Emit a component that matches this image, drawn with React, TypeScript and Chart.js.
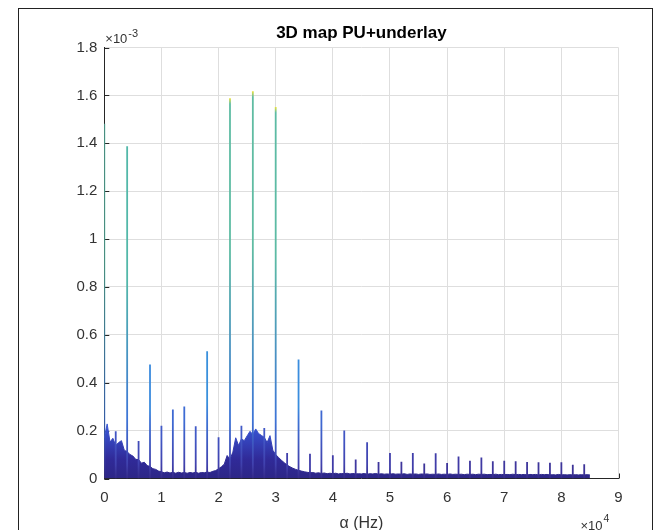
import React, { useEffect, useRef } from "react";
import { Chart, registerables } from "chart.js";

Chart.register(...registerables);

// ---- axis ticks ----
const xTickValues = [0, 1, 2, 3, 4, 5, 6, 7, 8, 9]; // ×10^4 Hz
const yTickValues = [0, 0.2, 0.4, 0.6, 0.8, 1, 1.2, 1.4, 1.6, 1.8]; // ×10^-3

// ---- cyclic spikes (α in ×10^4 Hz, magnitude in ×10^-3) ----
const spikeAlpha = [
  0, 0.2, 0.4, 0.6, 0.8, 1.0, 1.2, 1.4, 1.6, 1.8, 2.0, 2.2, 2.4, 2.6, 2.8, 3.0,
  3.2, 3.4, 3.6, 3.8, 4.0, 4.2, 4.4, 4.6, 4.8, 5.0, 5.2, 5.4, 5.6, 5.8, 6.0, 6.2,
  6.4, 6.6, 6.8, 7.0, 7.2, 7.4, 7.6, 7.8, 8.0, 8.2, 8.4,
];
const spikeMag = [
  1.482, 0.197, 1.388, 0.157, 0.476, 0.220, 0.288, 0.301, 0.218, 0.531, 0.172,
  1.588, 0.220, 1.617, 0.211, 1.551, 0.106, 0.497, 0.103, 0.284, 0.097, 0.200,
  0.079, 0.151, 0.069, 0.106, 0.070, 0.106, 0.063, 0.105, 0.065, 0.092, 0.074,
  0.088, 0.072, 0.074, 0.072, 0.069, 0.068, 0.066, 0.068, 0.057, 0.059,
];

// ---- underlay noise floor, sampled every 0.05 ×10^4 Hz from 0 to 8.5 ----
const noiseStep = 0.05;
const noiseMag = [
  0.170, 0.228, 0.152, 0.168, 0.138, 0.150, 0.158, 0.118, 0.112, 0.100,
  0.094, 0.080, 0.079, 0.064, 0.068, 0.054, 0.050, 0.041, 0.038, 0.031,
  0.028, 0.024, 0.027, 0.023, 0.026, 0.022, 0.026, 0.023, 0.025, 0.022,
  0.025, 0.023, 0.026, 0.022, 0.025, 0.024, 0.027, 0.025, 0.030, 0.033,
  0.041, 0.049, 0.060, 0.096, 0.080, 0.110, 0.170, 0.138, 0.165, 0.158,
  0.178, 0.197, 0.184, 0.207, 0.188, 0.180, 0.172, 0.150, 0.179, 0.118,
  0.100, 0.088, 0.076, 0.066, 0.056, 0.049, 0.043, 0.038, 0.034, 0.031,
  0.028, 0.026, 0.024, 0.025, 0.022, 0.024, 0.021, 0.023, 0.020, 0.022,
  0.020, 0.022, 0.019, 0.021, 0.020, 0.022, 0.019, 0.021, 0.019, 0.020,
  0.019, 0.021, 0.018, 0.020, 0.019, 0.021, 0.018, 0.020, 0.018, 0.019,
  0.018, 0.020, 0.018, 0.019, 0.018, 0.020, 0.017, 0.019, 0.018, 0.019,
  0.017, 0.019, 0.018, 0.019, 0.017, 0.018, 0.017, 0.019, 0.017, 0.018,
  0.017, 0.019, 0.017, 0.018, 0.017, 0.018, 0.016, 0.018, 0.017, 0.018,
  0.016, 0.018, 0.017, 0.018, 0.016, 0.017, 0.016, 0.018, 0.016, 0.017,
  0.016, 0.017, 0.016, 0.018, 0.016, 0.017, 0.016, 0.017, 0.015, 0.017,
  0.016, 0.017, 0.015, 0.017, 0.016, 0.017, 0.015, 0.016, 0.015, 0.017,
  0.015, 0.016, 0.015, 0.016, 0.015, 0.016, 0.015, 0.016, 0.015, 0.016,
  0.015,
];

const TITLE = "3D map PU+underlay";
const X_TITLE = "α (Hz)";
const FONT = '"Liberation Sans", Arial, Helvetica, sans-serif';
const AXIS_COLOR = "#262626";
const TICK_COLOR = "#333333";
const GRID_COLOR = "#dedede";

// colour of a spike body, keyed by the spike's peak magnitude
const peakColorStops: [number, number[]][] = [
  [0.0, [53, 42, 135]],
  [0.06, [62, 52, 152]],
  [0.1, [64, 60, 168]],
  [0.2, [66, 86, 196]],
  [0.3, [62, 108, 212]],
  [0.5, [58, 142, 222]],
  [1.0, [62, 174, 192]],
  [1.4, [84, 184, 168]],
  [1.7, [100, 190, 160]],
];
const BASE_RGB = [53, 42, 135];
const TIP_COLOR = "rgb(235,225,60)";

const noiseStops: [number, string][] = [
  [0, "rgb(45,38,135)"],
  [0.08, "rgb(48,42,152)"],
  [0.2, "rgb(55,80,205)"],
  [0.24, "rgb(60,95,215)"],
];

function peakColor(h: number) {
  for (let i = 1; i < peakColorStops.length; i++) {
    const [v1, c1] = peakColorStops[i];
    const [v0, c0] = peakColorStops[i - 1];
    if (h <= v1) {
      const t = (h - v0) / (v1 - v0);
      return c0.map((c, k) => Math.round(c + (c1[k] - c) * t));
    }
  }
  return peakColorStops[peakColorStops.length - 1][1];
}
const rgb = (c: number[]) => `rgb(${c[0]},${c[1]},${c[2]})`;

function spikeSegmentColor(sctx: any) {
  const chart = sctx.chart;
  const i = Math.floor(sctx.p0DataIndex / 3);
  const h = spikeMag[i];
  if (h === undefined) return rgb(BASE_RGB);
  const yb = sctx.p0.y;
  const yt = sctx.p1.y;
  if (!isFinite(yb) || !isFinite(yt) || Math.abs(yb - yt) < 1) return rgb(BASE_RGB);
  const top = peakColor(h);
  const g = chart.ctx.createLinearGradient(0, yb, 0, yt);
  g.addColorStop(0, rgb(BASE_RGB));
  const f1 = Math.min(0.06 / h, 0.45);
  const f2 = Math.min(0.25 / h, 0.8);
  const mid = peakColor(Math.min(h, 0.35));
  g.addColorStop(f1, rgb(peakColor(Math.min(h, 0.12))));
  g.addColorStop(f2, rgb(mid));
  g.addColorStop(Math.max(f2 + 0.01, 0.6), rgb(top));
  if (h > 1.5) {
    g.addColorStop(0.985, rgb(top));
    g.addColorStop(1, TIP_COLOR);
  } else {
    g.addColorStop(1, rgb(top));
  }
  return g;
}

function rampGradient(chart: any, stops: [number, string][]) {
  const { ctx, chartArea, scales } = chart;
  if (!chartArea || !scales.y) return stops[0][1];
  const top = stops[stops.length - 1][0];
  const y0 = scales.y.getPixelForValue(0);
  const y1 = scales.y.getPixelForValue(top);
  const g = ctx.createLinearGradient(0, y0, 0, y1);
  stops.forEach(([v, c]) => g.addColorStop(Math.min(1, v / top), c));
  return g;
}

const innerTicksPlugin = {
  id: "innerTicks",
  beforeDatasetsDraw(chart: any) {
    const { ctx, chartArea, scales } = chart;
    ctx.save();
    ctx.strokeStyle = AXIS_COLOR;
    ctx.lineWidth = 1;
    ctx.beginPath();
    scales.x.ticks.forEach((t: any) => {
      const px = Math.round(scales.x.getPixelForValue(t.value)) + 0.5;
      ctx.moveTo(px, chartArea.bottom);
      ctx.lineTo(px, chartArea.bottom - 5);
    });
    scales.y.ticks.forEach((t: any) => {
      const py = Math.round(scales.y.getPixelForValue(t.value)) + 0.5;
      ctx.moveTo(chartArea.left, py);
      ctx.lineTo(chartArea.left + 5, py);
    });
    ctx.stroke();
    ctx.restore();
  },
};

const exponentPlugin = {
  id: "exponents",
  afterDraw(chart: any) {
    const { ctx, chartArea } = chart;
    const { left, top, right, bottom } = chartArea;
    ctx.save();
    ctx.fillStyle = TICK_COLOR;
    ctx.textBaseline = "alphabetic";
    ctx.textAlign = "left";
    const base = "×10";
    // y exponent
    ctx.font = `13px ${FONT}`;
    ctx.fillText(base, left + 1, top - 4.2);
    const w1 = ctx.measureText(base).width;
    ctx.font = `11px ${FONT}`;
    ctx.fillText("-3", left + 1 + w1 + 1, top - 10.8);
    // x exponent
    ctx.font = `13px ${FONT}`;
    ctx.fillText(base, right - 38, bottom + 51.5);
    const w2 = ctx.measureText(base).width;
    ctx.font = `10.5px ${FONT}`;
    ctx.fillText("4", right - 38 + w2 + 1, bottom + 43.5);
    ctx.restore();
  },
};

export default function App() {
  const ref = useRef<HTMLCanvasElement>(null);

  useEffect(() => {
    if (!ref.current) return;

    const spikePoints: any[] = [];
    spikeAlpha.forEach((a, i) => {
      spikePoints.push({ x: a, y: 0 });
      spikePoints.push({ x: a, y: spikeMag[i] });
      spikePoints.push({ x: a, y: null });
    });
    const noisePoints = noiseMag.map((v, i) => ({ x: +(i * noiseStep).toFixed(2), y: v }));

    const chart = new Chart(ref.current, {
      type: "line",
      data: {
        datasets: [
          {
            label: "cyclic peaks",
            data: spikePoints,
            borderColor: rgb(BASE_RGB),
            segment: { borderColor: spikeSegmentColor },
            borderWidth: 1.8,
            pointRadius: 0,
            spanGaps: false,
            tension: 0,
            fill: false,
            order: 0,
          },
          {
            label: "underlay",
            data: noisePoints,
            borderColor: (c: any) => rampGradient(c.chart, noiseStops),
            backgroundColor: (c: any) => rampGradient(c.chart, noiseStops),
            borderWidth: 1,
            pointRadius: 0,
            tension: 0,
            fill: "origin",
            order: 1,
          },
        ],
      },
      options: {
        responsive: false,
        maintainAspectRatio: false,
        animation: false,
        devicePixelRatio: 1,
        layout: { padding: { left: 0, right: 45.5, top: 0, bottom: 0 } },
        plugins: {
          legend: { display: false },
          tooltip: { enabled: false },
          title: {
            display: true,
            text: TITLE,
            fullSize: false,
            color: "#000",
            font: { family: FONT, size: 17, weight: "bold" },
            padding: { top: 23, bottom: 4.1 },
          },
        },
        scales: {
          x: {
            type: "linear",
            min: 0,
            max: 9,
            afterBuildTicks: (s: any) => {
              s.ticks = xTickValues.map((v) => ({ value: v }));
            },
            afterFit: (s: any) => {
              s.height = 71.5;
            },
            ticks: {
              autoSkip: false,
              maxRotation: 0,
              padding: 10,
              color: TICK_COLOR,
              font: { family: FONT, size: 15 },
              callback: (v: any) => String(v),
            },
            grid: { color: GRID_COLOR, lineWidth: 1, drawTicks: false },
            border: { display: true, color: AXIS_COLOR, width: 1 },
            title: {
              display: true,
              text: X_TITLE,
              color: TICK_COLOR,
              font: { family: FONT, size: 16 },
              padding: { top: 0, bottom: 16.5 },
            },
          },
          y: {
            type: "linear",
            min: 0,
            max: 1.8,
            afterBuildTicks: (s: any) => {
              s.ticks = yTickValues.map((v) => ({ value: v }));
            },
            afterFit: (s: any) => {
              s.width = 104.3;
            },
            ticks: {
              autoSkip: false,
              padding: 7,
              color: TICK_COLOR,
              font: { family: FONT, size: 15 },
              callback: (v: any) => String(Math.round(Number(v) * 10) / 10),
            },
            grid: { color: GRID_COLOR, lineWidth: 1, drawTicks: false },
            border: { display: true, color: AXIS_COLOR, width: 1 },
          },
        },
      },
      plugins: [innerTicksPlugin, exponentPlugin],
    } as any);

    return () => chart.destroy();
  }, []);

  return (
    <div
      style={{
        position: "fixed",
        left: 0,
        top: 0,
        width: 664,
        height: 530,
        overflow: "hidden",
        background: "#fff",
      }}
    >
      <canvas
        ref={ref}
        width={664}
        height={550}
        style={{ position: "absolute", left: 0, top: 0, display: "block" }}
      />
      <div
        style={{
          position: "absolute",
          left: 18,
          top: 8,
          width: 635,
          height: 600,
          border: "1px solid #222",
          boxSizing: "border-box",
          pointerEvents: "none",
        }}
      />
    </div>
  );
}
